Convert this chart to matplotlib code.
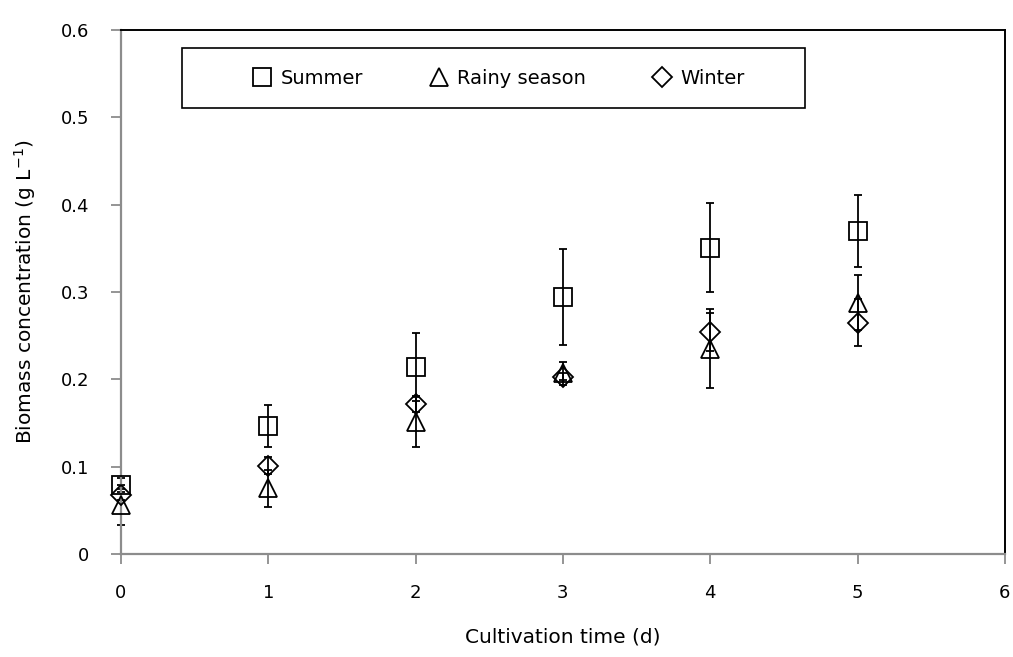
import matplotlib
matplotlib.use("Agg")
import matplotlib.pyplot as plt
from matplotlib.patches import Rectangle

plt.rcParams["font.family"] = ["DejaVu Sans"]

DAYS = [0, 1, 2, 3, 4, 5]

SUMMER = [0.079, 0.146, 0.214, 0.294, 0.351, 0.370]
SUMMER_ERR = [0.008, 0.024, 0.039, 0.055, 0.051, 0.041]

RAINY = [0.056, 0.075, 0.151, 0.207, 0.235, 0.288]
RAINY_ERR = [0.023, 0.021, 0.029, 0.013, 0.045, 0.031]

WINTER = [0.068, 0.101, 0.172, 0.203, 0.254, 0.265]
WINTER_ERR = [0.006, 0.010, 0.009, 0.004, 0.022, 0.027]

SERIES = [
    ("Summer", SUMMER, SUMMER_ERR, "s", 13.5),
    ("Rainy season", RAINY, RAINY_ERR, "^", 13.5),
    ("Winter", WINTER, WINTER_ERR, "D", 10.5),
]

OUT_FILE = "out.png"
AXIS_GREY = "#8c8c8c"


def main():
    fig = plt.figure(figsize=(10.13, 6.57), dpi=100)
    ax = fig.add_axes([0.1194, 0.157, 0.8726, 0.797])

    handles = []
    for label, y, err, marker, ms in SERIES:
        eb = ax.errorbar(DAYS, y, yerr=err, fmt="none", ecolor="black",
                         elinewidth=1.3, capsize=3.2, capthick=1.3, zorder=2)
        for art in eb.lines[1] + eb.lines[2]:
            art.set_clip_on(False)
        h, = ax.plot(DAYS, y, linestyle="none", marker=marker, markersize=ms,
                     markerfacecolor="none", markeredgecolor="black",
                     markeredgewidth=1.3, label=label, zorder=3, clip_on=False)
        handles.append(h)

    ax.set_xlim(0, 6)
    ax.set_ylim(0, 0.6)
    ax.set_xticks(range(7))
    ax.set_yticks([0, 0.1, 0.2, 0.3, 0.4, 0.5, 0.6])
    ax.set_yticklabels(["0", "0.1", "0.2", "0.3", "0.4", "0.5", "0.6"])

    for side in ("left", "bottom"):
        ax.spines[side].set_color(AXIS_GREY)
        ax.spines[side].set_linewidth(1.6)
    for side in ("top", "right"):
        ax.spines[side].set_color("black")
        ax.spines[side].set_linewidth(1.4)

    ax.tick_params(axis="both", direction="out", length=7, width=1.3,
                   color=AXIS_GREY, labelsize=13, labelcolor="black")
    ax.tick_params(axis="x", pad=15)
    ax.tick_params(axis="y", pad=16)

    ax.set_xlabel("Cultivation time (d)", fontsize=14.5, labelpad=18)
    ax.set_ylabel(r"Biomass concentration (g L$^{\mathregular{-1}}$)",
                  fontsize=14.5, labelpad=16)

    # legend box drawn separately so its padding can differ per direction
    ax.add_patch(Rectangle((0.069, 0.851), 0.705, 0.1146,
                           transform=ax.transAxes, fill=False,
                           edgecolor="black", linewidth=1.2, zorder=4))
    ax.legend(handles=handles, loc="center", ncol=3,
              bbox_to_anchor=(0.427, 0.908), frameon=False,
              fontsize=14, handlelength=1.0, handletextpad=0.45,
              columnspacing=3.4, borderpad=0, markerscale=0.95)

    fig.savefig(OUT_FILE, dpi=100)


if __name__ == "__main__":
    main()
